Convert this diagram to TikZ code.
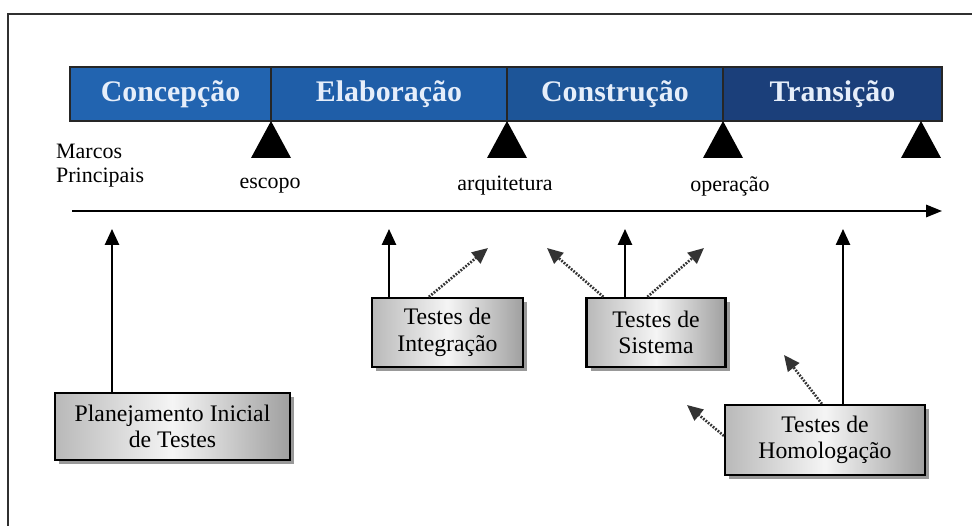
\documentclass[tikz,border=0pt]{standalone}
\usepackage{fontspec}
\setmainfont{Liberation Serif}
\definecolor{phConc}{HTML}{2264B0}
\definecolor{phElab}{HTML}{1F5EA8}
\definecolor{phCons}{HTML}{1D5598}
\definecolor{phTran}{HTML}{1B3F7A}
\definecolor{phText}{HTML}{E6EEFA}
\definecolor{frameGray}{HTML}{303030}
\usetikzlibrary{calc,positioning,arrows.meta,shadows}

\begin{document}
\begin{tikzpicture}[x=0.02cm, y=-0.02cm,
  phase/.style={draw=black!85, line width=0.6pt, text=phText, inner sep=0pt,
    minimum height=1.08cm, font=\fontsize{17}{18}\selectfont\bfseries},
  lbl/.style={font=\fontsize{12.5}{13.5}\selectfont},
  testbox/.style={draw=black, line width=1.3pt, left color=gray!55,
    right color=gray!75, middle color=gray!8, align=center, inner sep=0pt,
    font=\fontsize{13.5}{15}\selectfont,
    drop shadow={shadow xshift=2.5pt, shadow yshift=-2.5pt, fill=gray!80, opacity=1}},
  timearr/.style={-{Triangle[length=9pt,width=7pt]}, line width=1pt},
  uparr/.style={-{Triangle[length=9pt,width=8pt]}, line width=1.1pt},
  dotarr/.style={-{Triangle[length=9pt,width=8pt]}, line width=1.5pt,
    dash pattern=on 1pt off 0.8pt, draw=black!80}
]
  \useasboundingbox (0,0) rectangle (972,526);
  % Outer frame (top and left edges only)
  \draw[frameGray, line width=1pt] (8,526) -- (8,14) -- (972,14);
  % Phase bar
  \node[phase, fill=phConc, minimum width=4.02cm] (conc) at (170.5,94) {Concepção};
  \node[phase, fill=phElab, minimum width=4.72cm] (elab) at (389,94) {Elaboração};
  \node[phase, fill=phCons, minimum width=4.32cm] (cons) at (615,94) {Construção};
  \node[phase, fill=phTran, minimum width=4.38cm] (tran) at (832.5,94) {Transição};
  % Milestones
  \foreach \x in {271,507,723,921}
    \fill (\x,121) -- ++(-20,37) -- ++(40,0) -- cycle;
  \node[lbl, align=left, anchor=north west] (marcos) at (50,138) {Marcos\\Principais};
  \node[lbl] (escopo) at (270,186) {escopo};
  \node[lbl] (arq) at (505,186) {arquitetura};
  \node[lbl] (oper) at (730,186) {operação};
  % Time line
  \coordinate (tlStart) at (72,211);
  \coordinate (tlEnd) at (942,211);
  \draw[timearr] (tlStart) -- (tlEnd);
  % Test activities
  \node[testbox, minimum width=4.7cm, minimum height=1.34cm] (plan) at (172.5,426.5)
    {Planejamento Inicial\\de Testes};
  \node[testbox, minimum width=3.02cm, minimum height=1.38cm] (integ) at (447.5,332.5)
    {Testes de\\Integração};
  \node[testbox, minimum width=2.78cm, minimum height=1.38cm] (sist) at (656,332.5)
    {Testes de\\Sistema};
  \node[testbox, minimum width=4.0cm, minimum height=1.4cm] (homol) at (825,440)
    {Testes de\\Homologação};
  % Arrow ends
  \coordinate (tipPlan) at (112,229);
  \coordinate (tipInteg) at (389,229);
  \coordinate (tipIntegD) at (488,248);
  \coordinate (tipSistL) at (547,248);
  \coordinate (tipSist) at (625,229);
  \coordinate (tipSistR) at (704,248);
  \coordinate (tipHomol) at (843,229);
  \coordinate (tipHomolA) at (784,355);
  \coordinate (tipHomolB) at (687,405);
  % Solid arrows up to the time line
  \draw[uparr] (plan.north -| tipPlan) -- (tipPlan);
  \draw[uparr] (integ.north -| tipInteg) -- (tipInteg);
  \draw[uparr] (sist.north -| tipSist) -- (tipSist);
  \draw[uparr] (homol.north -| tipHomol) -- (tipHomol);
  % Dotted arrows
  \draw[dotarr] ($(integ.north west)+(58,0)$) -- (tipIntegD);
  \draw[dotarr] ($(sist.north west)+(18,0)$) -- (tipSistL);
  \draw[dotarr] ($(sist.north west)+(62,0)$) -- (tipSistR);
  \draw[dotarr] ($(homol.north west)+(98,0)$) -- (tipHomolA);
  \draw[dotarr] ($(homol.north west)+(0,32)$) -- (tipHomolB);
\end{tikzpicture}
\end{document}
